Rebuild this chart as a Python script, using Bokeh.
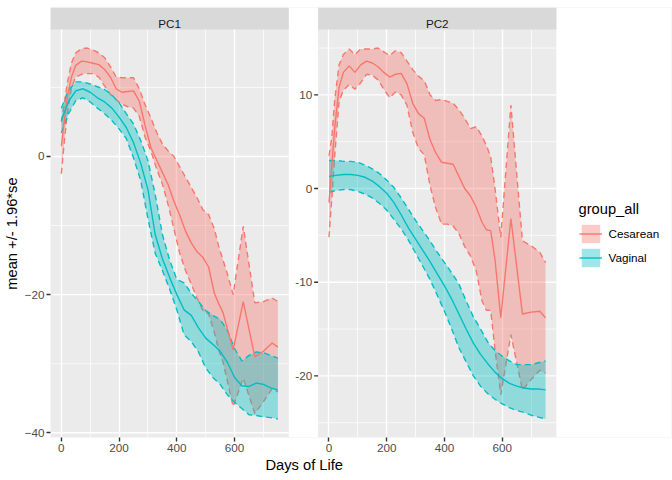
import numpy as np
from bokeh.plotting import figure
from bokeh.models import (Range1d, ColumnDataSource, Legend, LegendItem, FixedTicker, Label,
                          LinearAxis, Grid, BoxAnnotation, Title)
from bokeh.core.properties import value
from bokeh.embed import file_html
from bokeh.resources import INLINE

# ---------------- data ----------------
panels = ["PC1", "PC2"]
groups = ["Cesarean", "Vaginal"]

days_ces = [0, 10, 20, 35, 50, 70, 90, 110, 130, 150, 170, 190, 210, 230, 250, 270, 290, 310, 330, 350,
            370, 390, 410, 430, 450, 470, 490, 510, 530, 545, 560, 575, 595, 630, 670, 700, 730, 750]
days_vag = [0, 25, 50, 75, 100, 125, 150, 175, 200, 225, 250, 275, 300, 325, 350, 375, 400, 425, 450, 475,
            500, 525, 550, 575, 600, 625, 650, 675, 700, 725, 750]

pc1_ces_mean = [1.5, 5.0, 8.5, 11.5, 13.2, 13.8, 13.7, 13.5, 13.3, 12.6, 11.5, 9.8, 9.3, 9.4, 9.5, 8.0, 4.5, 1.3, -0.5, -2.3,
                -4.1, -6.5, -8.5, -10.8, -12.5, -13.8, -14.6, -16.0, -19.8, -21.3, -22.6, -25.0, -28.0, -21.0, -29.0, -28.2, -27.0, -27.6]
pc1_ces_hi = [5.0, 7.5, 10.5, 13.5, 15.0, 15.6, 15.7, 15.4, 15.0, 14.3, 13.0, 11.5, 11.4, 11.4, 11.4, 9.8, 7.5, 5.6, 3.5, 1.8,
              0.8, 0.0, -1.5, -3.0, -4.5, -6.0, -7.7, -8.4, -10.5, -13.0, -15.0, -17.0, -20.0, -10.1, -21.2, -21.0, -20.5, -21.0]
pc1_ces_lo = [-2.5, 2.0, 6.0, 10.0, 11.5, 11.9, 12.0, 12.0, 11.5, 10.2, 9.0, 8.2, 7.6, 7.2, 7.0, 5.8, 2.8, 0.8, -1.8, -4.0,
              -7.0, -10.5, -14.0, -16.5, -18.5, -20.5, -22.3, -22.8, -25.5, -28.0, -29.8, -32.5, -36.2, -32.1, -37.2, -35.5, -33.6, -34.1]

pc1_vag_mean = [5.2, 8.0, 9.5, 9.8, 9.3, 8.5, 7.9, 7.0, 5.7, 4.2, 2.0, -1.0, -4.8, -11.3, -14.8, -17.5, -20.0, -22.2, -23.0, -24.8,
                -26.3, -27.2, -28.2, -29.8, -32.0, -33.2, -33.3, -32.8, -33.0, -33.5, -33.8]
pc1_vag_hi = [7.0, 9.6, 10.8, 10.8, 10.5, 10.1, 9.7, 8.9, 7.8, 6.2, 4.7, 2.3, -0.6, -5.5, -11.3, -15.0, -17.8, -18.3, -19.8, -21.0,
              -22.3, -23.0, -23.6, -25.2, -27.8, -29.6, -28.8, -28.3, -28.4, -28.8, -29.2]
pc1_vag_lo = [3.4, 6.2, 8.1, 8.5, 7.9, 7.0, 6.2, 5.2, 4.0, 2.6, -0.2, -3.5, -9.0, -14.0, -16.5, -19.2, -22.2, -25.8, -26.8, -28.3,
              -30.6, -32.0, -33.0, -34.5, -35.6, -36.5, -37.4, -37.5, -37.7, -37.8, -38.0]

pc2_ces_mean = [-1.5, 2.5, 6.5, 10.8, 12.4, 13.1, 12.4, 13.2, 13.6, 13.4, 13.0, 12.4, 11.9, 12.2, 12.3, 11.2, 9.1, 8.0, 7.5, 5.2,
                3.8, 2.8, 2.7, 2.6, 1.3, 0.0, -0.8, -2.0, -3.6, -4.4, -4.5, -7.6, -13.8, -3.2, -13.4, -13.2, -13.1, -13.8]
pc2_ces_hi = [3.5, 5.5, 9.5, 13.2, 14.3, 14.9, 14.3, 14.9, 14.9, 14.9, 15.0, 14.6, 14.2, 14.7, 14.5, 13.6, 12.7, 12.0, 11.5, 10.0,
              9.4, 9.5, 9.3, 9.1, 8.4, 7.5, 6.4, 6.6, 5.6, 4.6, 3.4, 0.0, -5.2, 8.9, -5.6, -6.1, -6.8, -7.9]
pc2_ces_lo = [-5.2, -1.0, 3.5, 9.3, 10.5, 11.1, 10.6, 11.3, 12.2, 12.1, 11.6, 10.6, 9.7, 10.3, 10.0, 8.9, 6.0, 4.3, 3.6, 0.3,
              -2.1, -3.8, -3.8, -4.0, -4.8, -6.2, -7.2, -8.8, -12.0, -13.0, -13.0, -17.2, -22.0, -15.6, -21.5, -20.4, -19.4, -19.7]

pc2_vag_mean = [1.3, 1.4, 1.5, 1.5, 1.4, 1.2, 0.8, 0.2, -0.5, -1.5, -2.8, -4.2, -5.4, -6.6, -7.8, -9.1, -10.4, -11.8, -13.4, -15.0,
                -16.5, -17.7, -18.7, -19.6, -20.3, -20.8, -21.1, -21.3, -21.4, -21.4, -21.5]
pc2_vag_hi = [3.0, 3.0, 2.9, 2.9, 2.8, 2.5, 2.1, 1.6, 0.9, 0.1, -1.0, -2.2, -3.4, -4.5, -5.6, -6.8, -7.9, -9.0, -10.2, -12.0,
              -13.7, -15.0, -16.4, -17.3, -17.9, -18.4, -18.8, -18.8, -18.8, -18.6, -18.4]
pc2_vag_lo = [-0.4, -0.2, -0.1, -0.1, -0.3, -0.6, -1.0, -1.6, -2.3, -3.3, -4.3, -5.5, -6.9, -8.3, -9.7, -11.4, -13.1, -15.0, -17.0, -18.5,
              -20.0, -21.1, -21.9, -22.5, -23.0, -23.4, -23.7, -23.9, -24.2, -24.4, -24.6]

x_major = [0, 200, 400, 600]
x_minor = [100, 300, 500, 700]
pc1_y_major = [-40, -20, 0, 20]
pc1_y_minor = [-30, -10, 10]
pc2_y_major = [-20, -10, 0, 10]
pc2_y_minor = [-25, -15, -5, 5, 15]

# ---------------- style / layout constants ----------------
FONT = "Liberation Sans"
COLORS = {"Cesarean": "#F8766D", "Vaginal": "#00BFC4"}
FILL_ALPHA = 0.38
LW = 1.4
DASH = "6 4"
PANEL_PX = 239      # width of one facet panel
GAP_PX = 29.5       # space between facets
STRIP_PX = 22       # facet strip height
PANEL_H = 408       # facet panel height
LEFT_B = 48
RIGHT_B = 1
TOP_B = 7
BOTTOM_B = 43
W = 672
H = TOP_B + STRIP_PX + PANEL_H + BOTTOM_B
FRAME_W = W - LEFT_B - RIGHT_B


def expand(vals):
    lo, hi = min(vals), max(vals)
    pad = 0.05 * (hi - lo)
    return lo - pad, hi + pad


# data ranges of the two facets
xr = expand(days_ces + days_vag)
px_per = PANEL_PX / (xr[1] - xr[0])
shift = (PANEL_PX + GAP_PX) / px_per          # data offset of facet 2 inside the shared frame
frame_span = FRAME_W / px_per

yr1 = expand(pc1_ces_hi + pc1_ces_lo + pc1_vag_hi + pc1_vag_lo)
yr2 = expand(pc2_ces_hi + pc2_ces_lo + pc2_vag_hi + pc2_vag_lo)


def with_strip(r):
    return (r[0], r[1] + STRIP_PX * (r[1] - r[0]) / PANEL_H)


p = figure(width=W, height=H, x_axis_type=None, y_axis_type=None,
           x_range=Range1d(xr[0], xr[0] + frame_span), y_range=Range1d(*with_strip(yr1)),
           output_backend="svg", toolbar_location=None, tools="",
           min_border_left=LEFT_B, min_border_right=RIGHT_B, min_border_top=TOP_B, min_border_bottom=BOTTOM_B,
           background_fill_color="#EBEBEB", border_fill_color="white", outline_line_color=None)
p.extra_x_ranges = {"x2": Range1d(xr[0] - shift, xr[0] - shift + frame_span)}
p.extra_y_ranges = {"y2": Range1d(*with_strip(yr2))}

# white space between the facets and to the right of facet 2 (legend area)
p.add_layout(BoxAnnotation(left=xr[1], right=xr[0] + shift, fill_color="white", fill_alpha=1.0,
                           line_alpha=0, level="underlay"))
p.add_layout(BoxAnnotation(left=xr[1] + shift, right=xr[0] + frame_span, fill_color="white",
                           fill_alpha=1.0, line_alpha=0, level="underlay"))

facets = [
    dict(name="PC1", xn="default", yn="default", yr=yr1, ymaj=pc1_y_major, ymin=pc1_y_minor,
         data=(pc1_ces_mean, pc1_ces_hi, pc1_ces_lo, pc1_vag_mean, pc1_vag_hi, pc1_vag_lo)),
    dict(name="PC2", xn="x2", yn="y2", yr=yr2, ymaj=pc2_y_major, ymin=pc2_y_minor,
         data=(pc2_ces_mean, pc2_ces_hi, pc2_ces_lo, pc2_vag_mean, pc2_vag_hi, pc2_vag_lo)),
]

# grid lines limited to each facet (drawn first)
for f in facets:
    xn, yn, (ylo, yhi) = f["xn"], f["yn"], f["yr"]
    ymaj = [t for t in f["ymaj"] if ylo <= t <= yhi]
    ymin = [t for t in f["ymin"] if ylo <= t <= yhi]
    p.segment(x0=[xr[0]] * len(ymin), x1=[xr[1]] * len(ymin), y0=ymin, y1=ymin,
              line_color="white", line_width=0.7, x_range_name=xn, y_range_name=yn)
    p.segment(x0=[xr[0]] * len(ymaj), x1=[xr[1]] * len(ymaj), y0=ymaj, y1=ymaj,
              line_color="white", line_width=1.4, x_range_name=xn, y_range_name=yn)
    p.add_layout(Grid(dimension=0, ticker=FixedTicker(ticks=x_major, minor_ticks=x_minor),
                      x_range_name=xn, y_range_name=yn,
                      grid_line_color="white", grid_line_width=1.4,
                      minor_grid_line_color="white", minor_grid_line_width=0.7))

legend_renderers = {}
for f in facets:
    xn, yn, (ylo, yhi) = f["xn"], f["yn"], f["yr"]
    ces_m, ces_h, ces_l, vag_m, vag_h, vag_l = f["data"]
    src_c = ColumnDataSource(dict(days=days_ces, mean=ces_m, hi=ces_h, lo=ces_l))
    src_v = ColumnDataSource(dict(days=days_vag, mean=vag_m, hi=vag_h, lo=vag_l))
    rend = {}
    for g, src in (("Cesarean", src_c), ("Vaginal", src_v)):
        c = COLORS[g]
        area = p.varea(x="days", y1="lo", y2="hi", source=src, fill_color=c, fill_alpha=FILL_ALPHA,
                       x_range_name=xn, y_range_name=yn)
        p.line(x="days", y="hi", source=src, line_color=c, line_width=LW, line_dash=DASH,
               x_range_name=xn, y_range_name=yn)
        p.line(x="days", y="lo", source=src, line_color=c, line_width=LW, line_dash=DASH,
               x_range_name=xn, y_range_name=yn)
        rend[g] = [area]
    for g, src in (("Cesarean", src_c), ("Vaginal", src_v)):
        m = p.line(x="days", y="mean", source=src, line_color=COLORS[g], line_width=LW,
                   x_range_name=xn, y_range_name=yn)
        rend[g].append(m)
    legend_renderers[f["name"]] = rend

    # facet strip
    p.add_layout(BoxAnnotation(left=xr[0], right=xr[1], bottom=yhi, top=None,
                               x_range_name=xn, y_range_name=yn,
                               fill_color="#D9D9D9", fill_alpha=1.0, line_alpha=0))
    p.add_layout(Label(x=(xr[0] + xr[1]) / 2, y=yhi, y_offset=6, text=f["name"],
                       x_range_name=xn, y_range_name=yn,
                       text_align="center", text_baseline="alphabetic",
                       text_font=FONT, text_font_size="11.7px", text_color="#1A1A1A"))

# legend-only outline (dashed ribbon border in the legend keys); no data, so nothing is drawn in the panels
key_outline = {g: p.quad(left=[], right=[], top=[], bottom=[], fill_alpha=0,
                         line_color=COLORS[g], line_width=LW, line_dash="4 3")
               for g in groups}

# y axis of facet 2 (drawn in the gap)
yr2_ticks = [t for t in pc2_y_major if yr2[0] <= t <= yr2[1]]
p.ray(x=[xr[0]] * len(yr2_ticks), y=yr2_ticks, length=4, length_units="screen", angle=np.pi,
      line_color="#333333", line_width=1.4, x_range_name="x2", y_range_name="y2")
p.text(x=[xr[0]] * len(yr2_ticks), y=yr2_ticks, text=[str(t) for t in yr2_ticks], x_offset=-6,
       text_align="right", text_baseline="middle", text_font=value(FONT), text_font_size="11.7px",
       text_color="#4D4D4D", x_range_name="x2", y_range_name="y2")

# shared x axis with both facets' ticks
x_ticks = list(x_major) + [t + shift for t in x_major]
overrides = {t: str(t) for t in x_major}
overrides.update({t + shift: str(t) for t in x_major})
xaxis = LinearAxis(ticker=FixedTicker(ticks=x_ticks), major_label_overrides=overrides)
yr1_ticks = [t for t in pc1_y_major if yr1[0] <= t <= yr1[1]]
yaxis = LinearAxis(ticker=FixedTicker(ticks=yr1_ticks))
for ax in (xaxis, yaxis):
    ax.axis_line_color = None
    ax.major_tick_line_color = "#333333"
    ax.major_tick_line_width = 1.4
    ax.major_tick_out = 4
    ax.major_tick_in = 0
    ax.minor_tick_line_color = None
    ax.major_label_text_color = "#4D4D4D"
    ax.major_label_text_font_size = "11.7px"
    ax.major_label_text_font = FONT
    ax.major_label_standoff = 2
p.add_layout(xaxis, "below")
p.add_layout(yaxis, "left")

# axis titles (shared x title centred under both facets, y title centred on the facet area)
x_title_w = 77.6
y_title_w = 112.4
p.add_layout(Title(text="Days of Life", align="left",
                   offset=PANEL_PX + GAP_PX / 2 - x_title_w / 2, standoff=0,
                   text_font=FONT, text_font_size="14.7px", text_font_style="normal",
                   text_color="black"), "below")
p.add_layout(Title(text="mean +/- 1.96*se", align="left",
                   offset=PANEL_H / 2 - y_title_w / 2, standoff=3,
                   text_font=FONT, text_font_size="14.7px", text_font_style="normal",
                   text_color="black"), "left")

rend2 = legend_renderers["PC2"]
legend = Legend(items=[LegendItem(label=g, renderers=[rend2[g][0], key_outline[g], rend2[g][1]])
                       for g in groups],
                location=(2 * PANEL_PX + GAP_PX + 21, 168), orientation="vertical",
                title="group_all", title_text_font=FONT, title_text_font_size="14.7px",
                title_text_font_style="normal", title_text_color="black", title_standoff=5,
                label_text_font=FONT, label_text_font_size="11.7px", label_text_color="black",
                glyph_width=23, glyph_height=23, label_height=23, label_standoff=7, spacing=1,
                padding=0, margin=0, border_line_color=None, background_fill_alpha=0)
p.add_layout(legend)

open("out.html", "w").write(file_html(p, INLINE))
